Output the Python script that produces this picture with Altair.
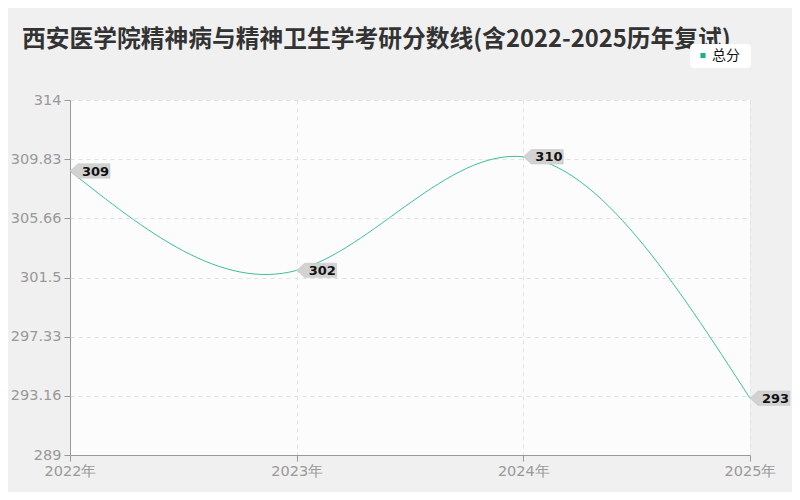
import altair as alt
import pandas as pd

years = ["2022年", "2023年", "2024年", "2025年"]
scores = [309, 302, 310, 293]
y_ticks = [289, 293.16, 297.33, 301.5, 305.66, 309.83, 314]
series_name = "总分"
title_text = "西安医学院精神病与精神卫生学考研分数线(含2022-2025历年复试)"

line_color = "#3dbf9b"
font = "Noto Sans CJK SC"
tick_font = "DejaVu Sans"

df = pd.DataFrame({"year": years, "score": scores, "label": [str(s) for s in scores]})
one = pd.DataFrame({"t": [title_text], "s": [series_name]})

axis_common = dict(
    domainColor="#999999", tickColor="#999999", tickSize=6,
    labelColor="#999999", labelFontSize=14.5, labelFont=tick_font,
    grid=True, gridDash=[4, 4], gridColor="#e2e2e2", labelPadding=3,
)

x = alt.X("year:O", scale=alt.Scale(type="point", padding=0),
          axis=alt.Axis(title=None, labelAngle=0, **axis_common))
y = alt.Y("score:Q", scale=alt.Scale(domain=[289, 314], nice=False, zero=False),
          axis=alt.Axis(title=None, values=y_ticks, format=".2~f", **axis_common))

base = alt.Chart(df).encode(x=x, y=y)

line = base.mark_line(interpolate="natural", color=line_color, strokeWidth=1)

tag_path = "M0,0 L0.4,-0.36 L2,-0.36 L2,0.36 L0.4,0.36 Z"
tags = base.mark_point(shape=tag_path, size=1600, filled=True, color="#d2d2d2", opacity=1,
                       stroke="#c4c4c4", strokeWidth=0.5)
labels = base.mark_text(align="left", baseline="middle", dx=12, dy=0.5, fontSize=13,
                        fontWeight="bold", color="#111111", font=tick_font).encode(text="label:N")

title = alt.Chart(one).mark_text(align="left", baseline="alphabetic", fontSize=23.75,
                                 fontWeight="bold", color="#333333", font=font).encode(
    x=alt.value(-48), y=alt.value(-53), text="t:N")

legend_box = alt.Chart(one).mark_rect(color="white", cornerRadius=4).encode(
    x=alt.value(620), x2=alt.value(681), y=alt.value(-56), y2=alt.value(-32))
legend_sq = alt.Chart(one).mark_square(color="#19b386", size=26, opacity=1).encode(
    x=alt.value(633), y=alt.value(-44.5))
legend_txt = alt.Chart(one).mark_text(align="left", baseline="middle", fontSize=14,
                                      color="#111111", font=font).encode(
    x=alt.value(642), y=alt.value(-44.5), text="s:N")

chart = alt.layer(line, tags, labels, title, legend_box, legend_sq, legend_txt).properties(
    width=680, height=355,
    autosize=alt.AutoSizeParams(type="none"),
    padding={"left": 62, "top": 92, "right": 42, "bottom": 37},
    background="#f0f0f0",
).configure_view(stroke=None, fill="#fcfcfc")

chart.save("out.html", embed_options={"renderer": "svg", "actions": False})
